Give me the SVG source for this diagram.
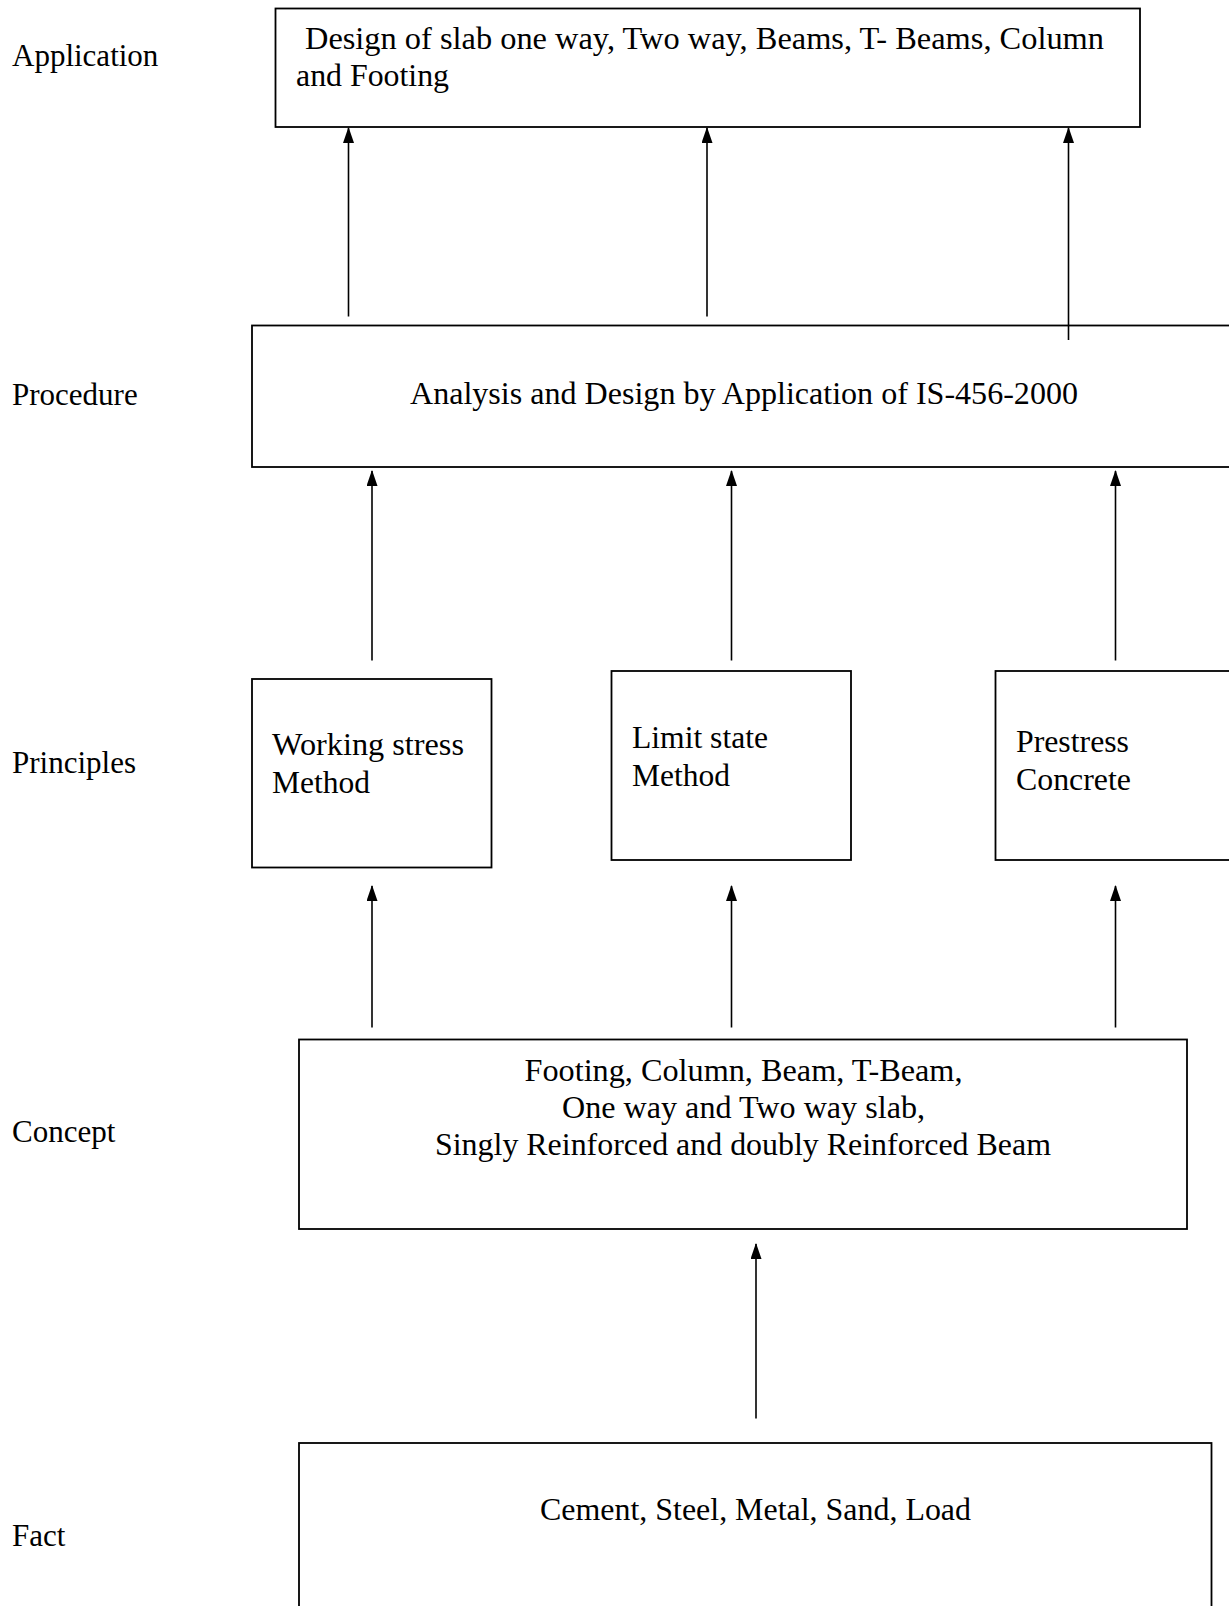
<svg xmlns="http://www.w3.org/2000/svg" width="1229" height="1606" viewBox="0 0 1229 1606">
<style>
.box{fill:#fff;stroke:#000;stroke-width:1.8}
.lbl{font-family:"Liberation Serif","Times New Roman",serif;font-size:31px;fill:#000}
.t{font-family:"Liberation Serif","Times New Roman",serif;font-size:31px;fill:#000}
.c{stroke:#000;stroke-width:1.6;fill:none;marker-end:url(#ah)}
</style>
<defs>
<marker id="ah" markerUnits="userSpaceOnUse" markerWidth="16" markerHeight="11" refX="15" refY="5.5" orient="auto" viewBox="0 0 16 11">
<path d="M0,0 L16,5.5 L0,11 Z" fill="#000"/>
</marker>
</defs>
<rect width="1229" height="1606" fill="#fff"/>
<g id="labels">
<text class="lbl" x="12" y="66">Application</text>
<text class="lbl" x="12" y="405">Procedure</text>
<text class="lbl" x="12" y="773">Principles</text>
<text class="lbl" x="12" y="1142">Concept</text>
<text class="lbl" x="12" y="1546">Fact</text>
</g>
<g id="application">
<rect class="box" x="275.5" y="8.5" width="864.5" height="118.5"/>
<text class="t" x="305" y="49" textLength="799" lengthAdjust="spacingAndGlyphs">Design of slab one way, Two way, Beams, T- Beams, Column</text>
<text class="t" x="296" y="86" textLength="153" lengthAdjust="spacingAndGlyphs">and Footing</text>
</g>
<g id="procedure">
<rect class="box" x="252" y="325.5" width="990" height="141.5"/>
<text class="t" x="410" y="403.5" textLength="668" lengthAdjust="spacingAndGlyphs">Analysis and Design by Application of IS-456-2000</text>
</g>
<g id="working-stress">
<rect class="box" x="252" y="679" width="239.5" height="188.5"/>
<text class="t" x="272" y="755" textLength="192" lengthAdjust="spacingAndGlyphs">Working stress</text>
<text class="t" x="272" y="793" textLength="98" lengthAdjust="spacingAndGlyphs">Method</text>
</g>
<g id="limit-state">
<rect class="box" x="611.5" y="671" width="239.5" height="189"/>
<text class="t" x="632" y="747.5" textLength="136" lengthAdjust="spacingAndGlyphs">Limit state</text>
<text class="t" x="632" y="785.5" textLength="98" lengthAdjust="spacingAndGlyphs">Method</text>
</g>
<g id="prestress">
<rect class="box" x="995.5" y="671" width="250" height="189"/>
<text class="t" x="1016" y="751.5" textLength="113" lengthAdjust="spacingAndGlyphs">Prestress</text>
<text class="t" x="1016" y="789.5" textLength="115" lengthAdjust="spacingAndGlyphs">Concrete</text>
</g>
<g id="concept">
<rect class="box" x="299" y="1039.5" width="888" height="189.5"/>
<text class="t" x="524.5" y="1080.5" textLength="438" lengthAdjust="spacingAndGlyphs">Footing, Column, Beam, T-Beam,</text>
<text class="t" x="562" y="1117.5" textLength="363" lengthAdjust="spacingAndGlyphs">One way and Two way slab,</text>
<text class="t" x="435" y="1154.5" textLength="616" lengthAdjust="spacingAndGlyphs">Singly Reinforced and doubly Reinforced Beam</text>
</g>
<g id="fact">
<rect class="box" x="299" y="1443" width="912.5" height="200"/>
<text class="t" x="540" y="1520" textLength="431" lengthAdjust="spacingAndGlyphs">Cement, Steel, Metal, Sand, Load</text>
</g>
<g id="connectors">
<line class="c" x1="348.5" y1="316.5" x2="348.5" y2="128"/>
<line class="c" x1="707" y1="316.5" x2="707" y2="128"/>
<line class="c" x1="1068.5" y1="340" x2="1068.5" y2="128"/>
<line class="c" x1="372" y1="660.5" x2="372" y2="471"/>
<line class="c" x1="731.5" y1="660.5" x2="731.5" y2="471"/>
<line class="c" x1="1115.5" y1="660.5" x2="1115.5" y2="471"/>
<line class="c" x1="372" y1="1027.5" x2="372" y2="886"/>
<line class="c" x1="731.5" y1="1027.5" x2="731.5" y2="886"/>
<line class="c" x1="1115.5" y1="1027.5" x2="1115.5" y2="886"/>
<line class="c" x1="756" y1="1418.5" x2="756" y2="1244"/>
</g>
</svg>
